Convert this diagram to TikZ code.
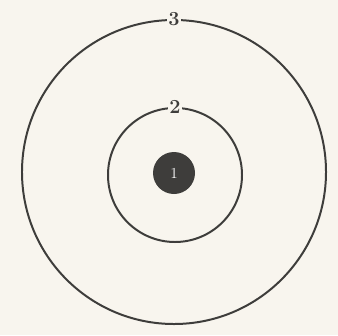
\documentclass[tikz,border=0pt]{standalone}
\usepackage{tikz}
\usetikzlibrary{positioning}
\definecolor{paper}{HTML}{F8F5EE}
\definecolor{ink}{HTML}{3E3D3B}
\tikzset{
  shell/.style={circle, draw=ink, line width=1.7pt, inner sep=0pt},
  core/.style={circle, fill=ink, draw=none, inner sep=0pt, minimum size=1.26cm,
    text=white, font=\fontsize{13}{13}\selectfont},
  num/.style={fill=paper, inner sep=1.5pt, text=ink,
    font=\fontsize{17}{17}\selectfont\bfseries},
}
\begin{document}
\begin{tikzpicture}[x=0.03cm, y=-0.03cm]
  \fill[paper] (0,0) rectangle (338,335);
  \useasboundingbox (0,0) rectangle (338,335);
  % ---------------- shells ----------------
  \node[shell, minimum size=9.12cm] (shell3) at (174,172) {};
  \node[shell, minimum size=4.02cm] (shell2) at (175,175) {};
  % ---------------- nucleus ----------------
  \node[core] (nucleus) at (174,173) {1};
  % ---------------- shell numbers ----------------
  \node[num] (lab3) at (shell3.north) {3};
  \node[num] (lab2) at (shell2.north) {2};
\end{tikzpicture}
\end{document}
